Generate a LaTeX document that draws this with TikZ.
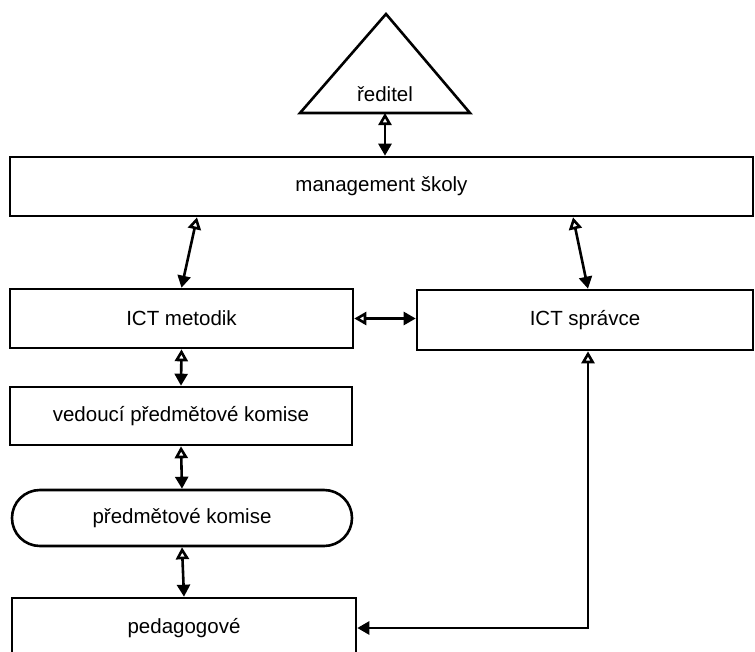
\documentclass[tikz,border=0pt]{standalone}
\usepackage{fontspec}
\setmainfont{Liberation Sans}
\usetikzlibrary{arrows.meta,positioning}

\begin{document}
\begin{tikzpicture}[
   x=1pt,y=-1pt,
   line width=2.6pt,
   font=\fontsize{20.5}{24}\selectfont,
   box/.style={draw,rectangle,inner sep=0pt},
   link/.style={{Triangle[open,length=12pt,width=13pt]}-{Triangle[length=12pt,width=13pt]}}]
  \useasboundingbox (0,0) rectangle (755,651);
  \clip (0,0) rectangle (755,651);
  % ředitel
  \draw (386,14) -- (470,113) -- (300,113) -- cycle;
  \node (reditel) at (385,94) {ředitel};
  \coordinate (tribase) at (385,113);
  % boxes
  \node[box,minimum width=743pt,minimum height=59pt] (mgmt) at (381.5,186.5) {management školy};
  \node[box,minimum width=343pt,minimum height=59pt] (metodik) at (181.5,318.5) {ICT metodik};
  \node[box,minimum width=336pt,minimum height=60pt] (spravce) at (585,320) {ICT správce};
  \node[box,minimum width=342pt,minimum height=58pt] (vedouci) at (181,416) {vedoucí předmětové komise};
  \node[box,rounded corners=27.9pt,minimum width=340pt,minimum height=56pt] (komise) at (182,518) {předmětové komise};
  \node[box,minimum width=344pt,minimum height=60pt] (pedagog) at (184,628) {pedagogové};
  % connectors
  \draw[link] (tribase) -- (tribase |- mgmt.north);
  \draw[link] ([xshift=-184.5pt]mgmt.south) -- (metodik.north);
  \draw[link] ([xshift=191.5pt]mgmt.south) -- ([xshift=3pt]spravce.north);
  \draw[link] (metodik.east) -- (metodik.east -| spravce.west);
  \draw[link] (metodik.south) -- (vedouci.north);
  \draw[link] (vedouci.south) -- (komise.north);
  \draw[link] (komise.south) -- (pedagog.north);
  \draw[link] ([xshift=3pt]spravce.south) |- (pedagog.east);
\end{tikzpicture}
\end{document}
